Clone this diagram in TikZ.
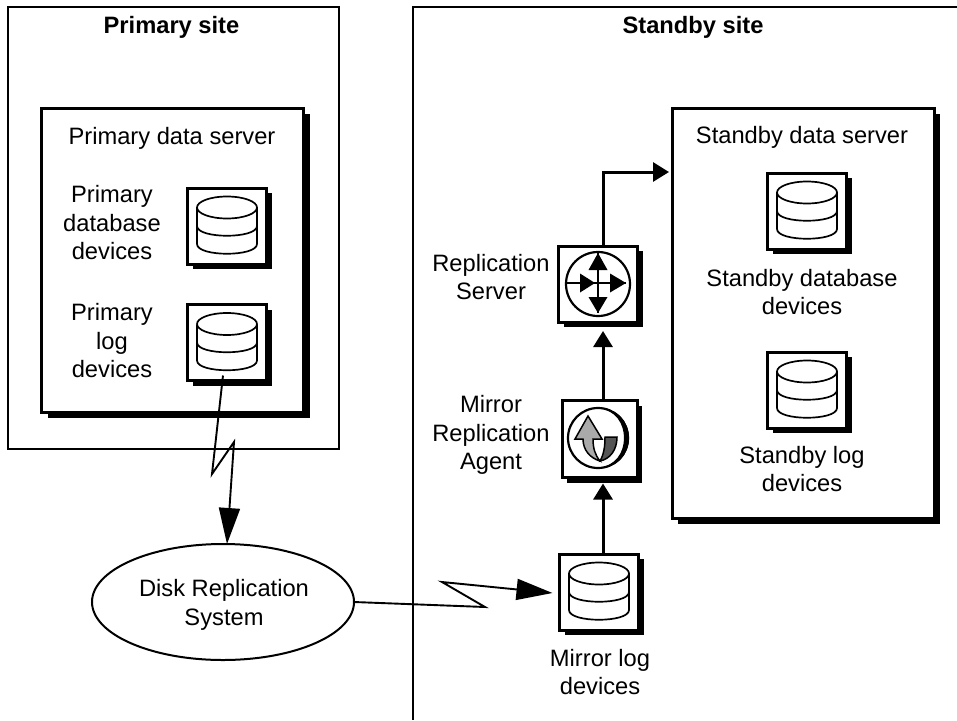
\documentclass[tikz,border=0pt]{standalone}
\usepackage{fontspec}
\setmainfont{Liberation Sans}
\usetikzlibrary{arrows.meta}
\usetikzlibrary{shapes.geometric}
\usetikzlibrary{shadows}
\definecolor{lightarrow}{RGB}{170,170,170}
\definecolor{darkarrow}{RGB}{85,85,85}
\tikzset{
  txt/.style={align=center,inner sep=0pt,font=\fontsize{23.7}{28.5}\selectfont},
  site/.style={draw,line width=1.8pt,inner sep=0pt,outer sep=0pt,minimum width=331pt,minimum height=442pt},
  server/.style={draw,fill=white,line width=3pt,inner sep=0pt,outer sep=0pt,minimum width=262pt,
    drop shadow={shadow xshift=6pt,shadow yshift=-6pt,opacity=1,fill=black}},
  icon/.style={draw,fill=white,line width=3pt,inner sep=0pt,outer sep=0pt,minimum width=79pt,minimum height=76pt,
    drop shadow={shadow xshift=5pt,shadow yshift=-5pt,opacity=1,fill=black}},
  flow/.style={line width=3pt,-{Triangle[length=16pt,width=19pt]}},
  wan/.style={line width=1.9pt,line join=miter,-{Triangle[length=36pt,width=21pt]}},
  cyl/.pic={
    \draw [line width=1.7pt] (-30,-18) -- (-30,18) .. controls (-30,31) and (30,31) .. (30,18) -- (30,-18);
    \draw [line width=1.7pt] (-30,0) .. controls (-30,13) and (30,13) .. (30,0);
    \draw [line width=1.7pt] (0,-18.5) ellipse [x radius=30pt,y radius=11pt];
  },
}
\begin{document}
\begin{tikzpicture}[x=1pt,y=-1pt]
\useasboundingbox (0,0) rectangle (957,720);

\node [site] (primarysite) at (173.5,228) {};
\draw [line width=1.8pt] (957,7)--(413,7)--(413,720);
\node [txt,anchor=base,font=\fontsize{23.7}{28.5}\selectfont\bfseries] (primarytitle) at (171.5,33) {Primary site};
\node [txt,anchor=base,font=\fontsize{23.7}{28.5}\selectfont\bfseries] (standbytitle) at (693,33) {Standby site};

\node [server,minimum height=304pt] (primaryserver) at (172.5,260) {};
\node [server,minimum height=410pt] (standbyserver) at (803,313) {};
\node [txt,anchor=base] (primaryname) at (172,144) {Primary data server};
\node [txt,anchor=base] (standbyname) at (802,143) {Standby data server};

% disks
\node [icon] (primarydb) at (227,226) {};
\node [icon] (primarylog) at (227,342.5) {};
\node [icon] (standbydb) at (807,211) {};
\node [icon] (standbylog) at (807,390) {};
\node [icon] (mirrorlog) at (599,592) {};
\pic at (primarydb) {cyl};
\pic at (primarylog) {cyl};
\pic at (standbydb) {cyl};
\pic at (standbylog) {cyl};
\pic at (mirrorlog) {cyl};

\node [txt] (primarydbtext) at (112,223) {Primary\\database\\devices};
\node [txt] (primarylogtext) at (112,341) {Primary\\log\\devices};
\node [txt] (standbydbtext) at (802,292) {Standby database\\devices};
\node [txt] (standbylogtext) at (802,469) {Standby log\\devices};
\node [txt] (mirrorlogtext) at (600,672) {Mirror log\\devices};

% replication server
\node [icon] (repserver) at (598,284) {};
\draw [line width=2.2pt] (repserver) circle [radius=32pt];
\draw [line width=2pt] (566,283)--(626,283);
\draw [line width=2pt] (598,253)--(598,313);
\fill (598,253)--(607.5,270)--(588.5,270)--cycle;
\fill (598,313)--(607.5,297)--(588.5,297)--cycle;
\fill (595,283)--(580,273.5)--(580,292.5)--cycle;
\fill (626,283)--(610,273.5)--(610,292.5)--cycle;
\node [txt] (repservertext) at (491,277) {Replication\\Server};

% agent
\node [icon,minimum width=75pt,minimum height=77pt] (agent) at (599.5,439) {};
\draw [line width=2.2pt] (598,438) circle [radius=30pt];
\fill (598,408) .. controls (618,408) and (629,422) .. (629,438) .. controls (629,454) and (618,468) .. (598,468) .. controls (616,466) and (624,452) .. (624,438) .. controls (624,424) and (616,410) .. (598,408) -- cycle;
\draw [line width=1.5pt,fill=darkarrow] (605,437)--(617,437) .. controls (617,450) and (610,459) .. (600,461) .. controls (604,454) and (605,446) .. (605,437) -- cycle;
\draw [line width=1.5pt,fill=lightarrow] (588,416)--(602,439)--(593,439) .. controls (593,448) and (595,455) .. (600,461) .. controls (590,458) and (583,450) .. (583,439)--(575,439)--cycle;
\node [txt] (agenttext) at (491,435) {Mirror\\Replication\\Agent};

% ellipse
\node [draw,ellipse,line width=2pt,inner sep=0pt,outer sep=0pt,minimum width=262pt,minimum height=116pt] (disksys) at (223,602) {};
\node [txt] (disksystext) at (224,605) {Disk Replication\\System};

% connectors
\coordinate (entry) at (669,172);
\draw [flow] ([xshift=4pt]mirrorlog.north)--([xshift=3.5pt,yshift=-6pt]agent.south);
\draw [flow] ([xshift=3.5pt]agent.north)--([xshift=5pt,yshift=-9pt]repserver.south);
\draw [flow] ([xshift=5pt]repserver.north) |- (entry);
\draw [wan] ([xshift=-4pt,yshift=5pt]primarylog.south)--(212,474)--(234,442)--([xshift=4pt]disksys.north);
\draw [wan] (disksys.east)--(485,607)--(442,582)--([xshift=-7pt,yshift=-1pt]mirrorlog.west);

\end{tikzpicture}
\end{document}
